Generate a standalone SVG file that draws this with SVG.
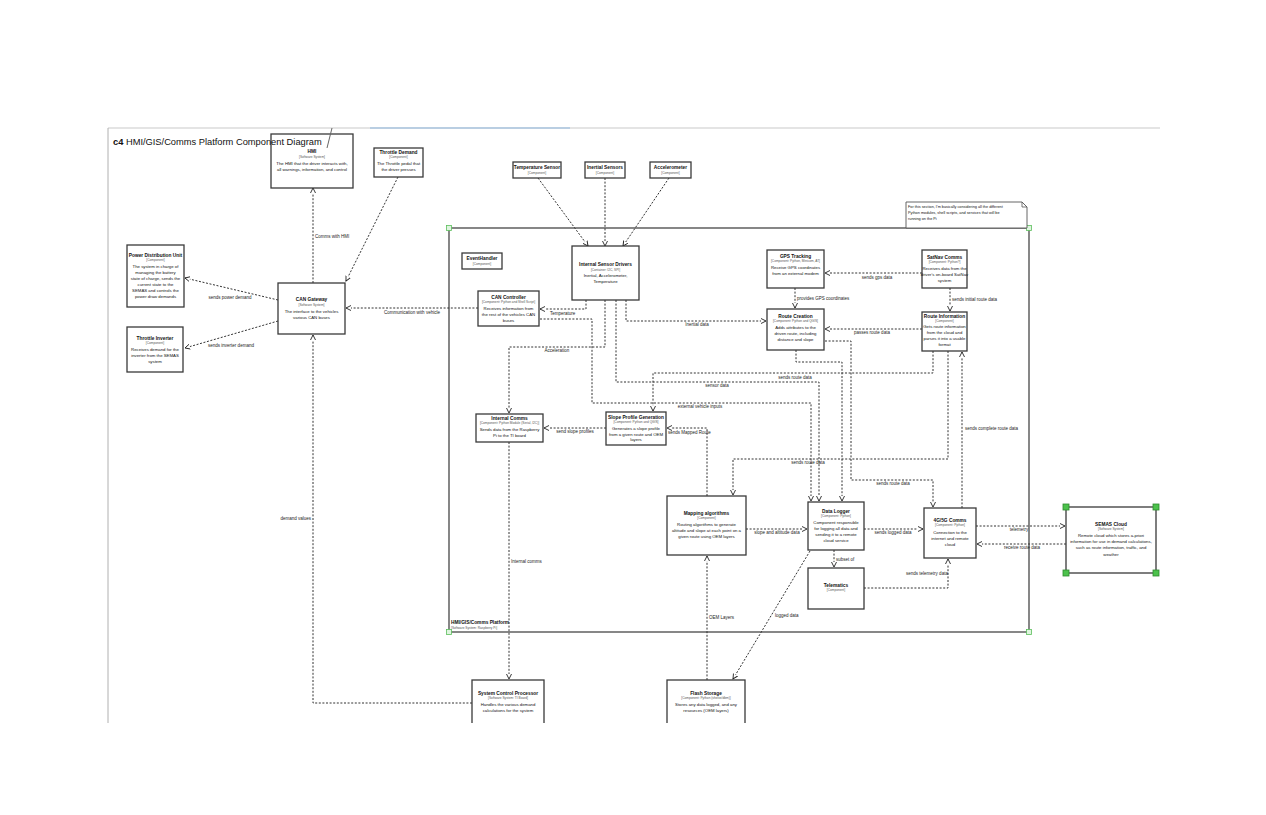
<svg xmlns="http://www.w3.org/2000/svg" width="1266" height="815" viewBox="0 0 1266 815">
<style>
text{font-family:"Liberation Sans",Arial,sans-serif;fill:#111}
.n{font-size:4.8px;font-weight:bold;text-anchor:middle}
.t{font-size:3.2px;fill:#555;text-anchor:middle}
.d{font-size:4.3px;text-anchor:middle}
.l{font-size:4.5px;fill:#222}
.lc{font-size:4.5px;fill:#222;text-anchor:middle}
.box{fill:#fff;stroke:#3a3a3a;stroke-width:1.3}
.c{fill:none;stroke:#333;stroke-width:1;stroke-dasharray:2,1.6;marker-end:url(#a)}
.h{fill:#4cc24c;stroke:#2e8b2e;stroke-width:0.8}
.ho{fill:#dff5df;stroke:#5cbf5c;stroke-width:0.8}
</style>
<defs>
<marker id="a" markerUnits="userSpaceOnUse" markerWidth="7" markerHeight="7" refX="5" refY="3" orient="auto">
<path d="M0,0.5 L5,3 L0,5.5" fill="#fff" stroke="#222" stroke-width="0.9"/>
</marker>
</defs>
<rect width="1266" height="815" fill="#fff"/>

<g id="frame-lines">
<line x1="108" y1="128" x2="1160" y2="128" stroke="#c9c9c9" stroke-width="1"/>
<line x1="370" y1="128" x2="570" y2="128" stroke="#8fb8e0" stroke-width="1"/>
<line x1="108" y1="128" x2="108" y2="723" stroke="#b0b0b0" stroke-width="1"/>
</g>

<g id="container">
<rect x="449" y="228" width="580" height="404" fill="none" stroke="#7a7a7a" stroke-width="1.8"/>
<text x="451" y="624" style="font-size:4.8px;font-weight:bold">HMI/GIS/Comms Platform</text>
<text x="451" y="629" style="font-size:3.2px;fill:#555">[Software System: Raspberry Pi]</text>
<rect class="ho" x="446.5" y="225.5" width="5" height="5"/>
<rect class="ho" x="446.5" y="629.5" width="5" height="5"/>
<rect class="ho" x="1026.5" y="225.5" width="5" height="5"/>
<rect class="ho" x="1026.5" y="629.5" width="5" height="5"/>
</g>

<g id="note">
<path d="M906,202 L1022,202 L1027,207 L1027,228 L906,228 Z" fill="#fff" stroke="#555" stroke-width="0.9"/>
<path d="M1022,202 L1022,207 L1027,207" fill="none" stroke="#555" stroke-width="0.8"/>
<text x="908" y="208" style="font-size:3.8px">For this section, I'm basically considering all the different</text>
<text x="908" y="214" style="font-size:3.8px">Python modules, shell scripts, and services that will be</text>
<text x="908" y="220" style="font-size:3.8px">running on the Pi</text>
</g>

<g id="connectors">
<path class="c" d="M313,283 L313,188"/>
<path class="c" d="M398,177 L346,281"/>
<path class="c" d="M278,300 L185,278"/>
<path class="c" d="M278,321 L185,348"/>
<path class="c" d="M478,308 L346,308"/>
<path class="c" d="M472,703 L313,703 L313,335"/>
<path class="c" d="M538,178 L588,246"/>
<path class="c" d="M605,178 L605,246"/>
<path class="c" d="M669,178 L623,246"/>
<path class="c" d="M586,300 L586,309 L540,309"/>
<path class="c" d="M605,300 L605,347 L509,347 L509,413"/>
<path class="c" d="M626,300 L626,321 L766,321"/>
<path class="c" d="M616,300 L616,382 L819,382 L819,501"/>
<path class="c" d="M540,319 L592,319 L592,403 L811,403 L811,501"/>
<path class="c" d="M933,351 L933,373 L653,373 L653,411"/>
<path class="c" d="M796,350 L796,362 L842,362 L842,501"/>
<path class="c" d="M825,341 L851,341 L851,480 L933,480 L933,507"/>
<path class="c" d="M948,351 L948,459 L733,459 L733,495"/>
<path class="c" d="M962,508 L962,352"/>
<path class="c" d="M707,496 L707,428 L667,428"/>
<path class="c" d="M606,428 L544,428"/>
<path class="c" d="M509,442 L509,679"/>
<path class="c" d="M707,680 L707,556"/>
<path class="c" d="M810,551 L733,679"/>
<path class="c" d="M746,529 L807,529"/>
<path class="c" d="M864,529 L923,529"/>
<path class="c" d="M834,550 L834,567"/>
<path class="c" d="M864,588 L948,588 L948,559"/>
<path class="c" d="M976,526 L1065,526"/>
<path class="c" d="M1066,544 L977,544"/>
<path class="c" d="M922,273 L825,273"/>
<path class="c" d="M950,288 L950,311"/>
<path class="c" d="M795,288 L795,308"/>
<path class="c" d="M922,329 L825,329"/>

<text class="l" x="315" y="238">Comms with HMI</text>
<text class="lc" x="230" y="299">sends power demand</text>
<text class="lc" x="231" y="347">sends inverter demand</text>
<text class="lc" x="412" y="314">Communication with vehicle</text>
<text class="l" x="311" y="520" text-anchor="end">demand values</text>
<text class="l" x="550" y="315">Temperature</text>
<text class="lc" x="557" y="352">Acceleration</text>
<text class="lc" x="697" y="326">Inertial data</text>
<text class="lc" x="717" y="387">sensor data</text>
<text class="lc" x="700" y="408">external vehicle inputs</text>
<text class="lc" x="795" y="379">sends route data</text>
<text class="lc" x="893" y="485">sends route data</text>
<text class="lc" x="808" y="464">sends route data</text>
<text class="l" x="965" y="430">sends complete route data</text>
<text class="l" x="668" y="434">sends Mapped Route</text>
<text class="lc" x="575" y="433">send slope profiles</text>
<text class="l" x="511" y="563">Internal comms</text>
<text class="l" x="709" y="619">OEM Layers</text>
<text class="l" x="775" y="617">logged data</text>
<text class="lc" x="777" y="534">slope and altitude data</text>
<text class="lc" x="893" y="534">sends logged data</text>
<text class="l" x="836" y="561">subset of</text>
<text class="lc" x="927" y="575">sends telemetry data</text>
<text class="lc" x="1019" y="531">telemetry</text>
<text class="lc" x="1022" y="549">receive route data</text>
<text class="lc" x="877" y="279">sends gps data</text>
<text class="l" x="952" y="301">sends initial route data</text>
<text class="l" x="797" y="300">provides GPS coordinates</text>
<text class="lc" x="872" y="334">passes route data</text>
</g>

<g id="hmi"><rect class="box" x="271" y="134" width="82" height="54"/>
<text class="n" x="312" y="153">HMI</text><text class="t" x="312" y="158">[Software System]</text>
<text class="d" x="312" y="165">The HMI that the driver interacts with,</text><text class="d" x="312" y="171">all warnings, information, and control</text></g>

<g id="throttle-demand"><rect class="box" x="374" y="148" width="49" height="29"/>
<text class="n" x="398.5" y="154">Throttle Demand</text><text class="t" x="398.5" y="158">[Component]</text>
<text class="d" x="398.5" y="165">The Throttle pedal that</text><text class="d" x="398.5" y="171">the driver presses</text></g>

<g id="pdu"><rect class="box" x="127" y="245" width="57" height="62"/>
<text class="n" x="155.5" y="257">Power Distribution Unit</text><text class="t" x="155.5" y="261">[Component]</text>
<text class="d" x="155.5" y="268">The system in charge of</text><text class="d" x="155.5" y="274">managing the battery</text>
<text class="d" x="155.5" y="280">state of charge, sends the</text><text class="d" x="155.5" y="286">current state to the</text>
<text class="d" x="155.5" y="292">SEMAS and controls the</text><text class="d" x="155.5" y="298">power draw demands</text></g>

<g id="throttle-inverter"><rect class="box" x="127" y="327" width="56" height="45"/>
<text class="n" x="155" y="340">Throttle Inverter</text><text class="t" x="155" y="344">[Component]</text>
<text class="d" x="155" y="351">Receives demand for the</text><text class="d" x="155" y="357">inverter from the SEMAS</text>
<text class="d" x="155" y="363">system</text></g>

<g id="can-gateway"><rect class="box" x="278" y="283" width="67" height="51"/>
<text class="n" x="311.5" y="301">CAN Gateway</text><text class="t" x="311.5" y="306">[Software System]</text>
<text class="d" x="311.5" y="313">The interface to the vehicles</text><text class="d" x="311.5" y="319">various CAN buses</text></g>

<g id="temperature-sensor"><rect class="box" x="513" y="162" width="48" height="16"/>
<text class="n" x="537" y="169">Temperature Sensor</text><text class="t" x="537" y="174">[Component]</text></g>

<g id="inertial-sensors"><rect class="box" x="585" y="162" width="40" height="16"/>
<text class="n" x="605" y="169">Inertial Sensors</text><text class="t" x="605" y="174">[Component]</text></g>

<g id="accelerometer"><rect class="box" x="650" y="162" width="41" height="16"/>
<text class="n" x="670.5" y="169">Accelerometer</text><text class="t" x="670.5" y="174">[Component]</text></g>

<g id="internal-sensor-drivers"><rect class="box" x="572" y="246" width="67" height="54"/>
<text class="n" x="605.5" y="266">Internal Sensor Drivers</text><text class="t" x="605.5" y="271">[Container: I2C, SPI]</text>
<text class="d" x="605.5" y="277">Inertial, Accelerometer,</text><text class="d" x="605.5" y="283">Temperature</text></g>

<g id="eventhandler"><rect class="box" x="462" y="253" width="40" height="16"/>
<text class="n" x="482" y="260">EventHandler</text><text class="t" x="482" y="265">[Component]</text></g>

<g id="can-controller"><rect class="box" x="478" y="291" width="61" height="35"/>
<text class="n" x="508.5" y="299">CAN Controller</text><text class="t" x="508.5" y="303">[Component: Python and Shell Script]</text>
<text class="d" x="508.5" y="310">Receives information from</text><text class="d" x="508.5" y="316">the rest of the vehicles CAN</text>
<text class="d" x="508.5" y="322">buses</text></g>

<g id="gps-tracking"><rect class="box" x="767" y="250" width="57" height="38"/>
<text class="n" x="795.5" y="258">GPS Tracking</text><text class="t" x="795.5" y="262">[Component: Python, Minicom, AT]</text>
<text class="d" x="795.5" y="269">Receive GPS coordinates</text><text class="d" x="795.5" y="275">from an external modem</text></g>

<g id="satnav-comms"><rect class="box" x="922" y="250" width="45" height="38"/>
<text class="n" x="944.5" y="259">SatNav Comms</text><text class="t" x="944.5" y="263">[Component: Python?]</text>
<text class="d" x="944.5" y="270">Receives data from the</text><text class="d" x="944.5" y="276">driver's on-board SatNav</text>
<text class="d" x="944.5" y="282">system</text></g>

<g id="route-creation"><rect class="box" x="767" y="309" width="57" height="41"/>
<text class="n" x="795.5" y="318">Route Creation</text><text class="t" x="795.5" y="322">[Component: Python and QGIS]</text>
<text class="d" x="795.5" y="329">Adds attributes to the</text><text class="d" x="795.5" y="335">driven route, including</text>
<text class="d" x="795.5" y="341">distance and slope</text></g>

<g id="route-information"><rect class="box" x="922" y="312" width="45" height="39"/>
<text class="n" x="944.5" y="318">Route Information</text><text class="t" x="944.5" y="322">[Component]</text>
<text class="d" x="944.5" y="328">Gets route information</text><text class="d" x="944.5" y="334">from the cloud and</text>
<text class="d" x="944.5" y="340">parses it into a usable</text><text class="d" x="944.5" y="346">format</text></g>

<g id="internal-comms"><rect class="box" x="476" y="414" width="67" height="28"/>
<text class="n" x="509.5" y="420">Internal Comms</text><text class="t" x="509.5" y="424">[Component: Python Module (Serial, I2C)]</text>
<text class="d" x="509.5" y="431">Sends data from the Raspberry</text><text class="d" x="509.5" y="437">Pi to the TI board</text></g>

<g id="slope-profile-generation"><rect class="box" x="606" y="412" width="60" height="33"/>
<text class="n" x="636" y="419">Slope Profile Generation</text><text class="t" x="636" y="423">[Component: Python and QGIS]</text>
<text class="d" x="636" y="430">Generates a slope profile</text><text class="d" x="636" y="436">from a given route and OEM</text>
<text class="d" x="636" y="441">layers</text></g>

<g id="mapping-algorithms"><rect class="box" x="667" y="496" width="79" height="59"/>
<text class="n" x="706.5" y="515">Mapping algorithms</text><text class="t" x="706.5" y="519">[Component]</text>
<text class="d" x="706.5" y="526">Routing algorithms to generate</text><text class="d" x="706.5" y="532">altitude and slope at each point on a</text>
<text class="d" x="706.5" y="538">given route using OEM layers</text></g>

<g id="data-logger"><rect class="box" x="808" y="502" width="56" height="48"/>
<text class="n" x="836" y="513">Data Logger</text><text class="t" x="836" y="517">[Component: Python]</text>
<text class="d" x="836" y="524">Component responsible</text><text class="d" x="836" y="530">for logging all data and</text>
<text class="d" x="836" y="536">sending it to a remote</text><text class="d" x="836" y="542">cloud service</text></g>

<g id="comms-4g5g"><rect class="box" x="924" y="508" width="52" height="50"/>
<text class="n" x="950" y="522">4G/5G Comms</text><text class="t" x="950" y="526">[Component: Python]</text>
<text class="d" x="950" y="534">Connection to the</text><text class="d" x="950" y="540">internet and remote</text>
<text class="d" x="950" y="546">cloud</text></g>

<g id="telematics"><rect class="box" x="808" y="568" width="56" height="41"/>
<text class="n" x="836" y="587">Telematics</text><text class="t" x="836" y="591">[Component]</text></g>

<g id="semas-cloud"><rect class="box" x="1066" y="507" width="90" height="66"/>
<text class="n" x="1111" y="526">SEMAS Cloud</text><text class="t" x="1111" y="530">[Software System]</text>
<text class="d" x="1111" y="537">Remote cloud which stores a-priori</text><text class="d" x="1111" y="543">information for use in demand calculations,</text>
<text class="d" x="1111" y="549">such as route information, traffic, and</text><text class="d" x="1111" y="556">weather</text>
<rect class="h" x="1063" y="504" width="6" height="6"/><rect class="h" x="1153" y="504" width="6" height="6"/>
<rect class="h" x="1063" y="570" width="6" height="6"/><rect class="h" x="1153" y="570" width="6" height="6"/></g>

<g id="system-control-processor"><rect class="box" x="472" y="680" width="72" height="60"/>
<text class="n" x="508" y="695">System Control Processor</text><text class="t" x="508" y="699">[Software System: TI Board]</text>
<text class="d" x="508" y="706">Handles the various demand</text><text class="d" x="508" y="712">calculations for the system</text></g>

<g id="flash-storage"><rect class="box" x="667" y="680" width="78" height="60"/>
<text class="n" x="706" y="695">Flash Storage</text><text class="t" x="706" y="699">[Component: Python (shelve/dbm)]</text>
<text class="d" x="706" y="706">Stores any data logged, and any</text><text class="d" x="706" y="712">resources (OEM layers)</text></g>

<g id="frame-title">
<path d="M332,128 L327,148" fill="none" stroke="#666" stroke-width="1"/>
<text x="113" y="145" style="font-size:9.3px"><tspan font-weight="bold">c4</tspan> HMI/GIS/Comms Platform Component Diagram</text>
</g>

<rect x="0" y="723" width="1266" height="92" fill="#fff"/>
</svg>
